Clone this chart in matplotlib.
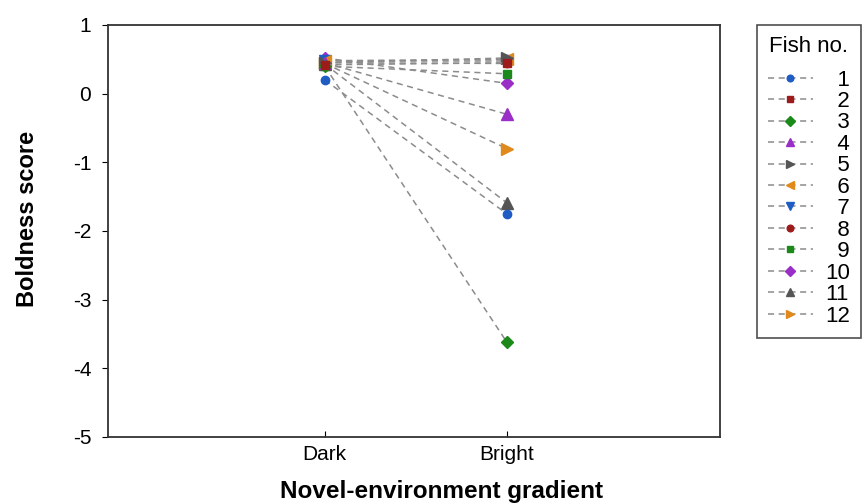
import matplotlib
matplotlib.use("Agg")
import matplotlib.pyplot as plt

plt.rcParams['font.family'] = ['Liberation Sans', 'DejaVu Sans']
plt.rcParams['axes.unicode_minus'] = False

conditions = ["Dark", "Bright"]
fish_ids = ["1", "2", "3", "4", "5", "6", "7", "8", "9", "10", "11", "12"]

# boldness score per fish: (dark, bright)
dark_scores = [0.20, 0.42, 0.40, 0.45, 0.45, 0.48, 0.47, 0.45, 0.40, 0.52, 0.43, 0.44]
bright_scores = [-1.75, 0.45, -3.62, -0.30, 0.52, 0.50, 0.47, 0.44, 0.29, 0.15, -1.59, -0.80]

blue = "#1f5cc4"
red = "#9e1b1b"
green = "#1b8a1b"
purple = "#9a2fc8"
gray = "#555555"
orange = "#e08a1c"

colors = [blue, red, green, purple, gray, orange, blue, red, green, purple, gray, orange]
markers = ["o", "s", "D", "^", ">", "<", "v", "o", "s", "D", "^", ">"]
sizes = [6, 6, 6, 8, 8, 8, 8, 6, 6, 6, 8, 8]

fig = plt.figure(figsize=(8.64, 5.04), dpi=100)
ax = fig.add_axes([108 / 864, 1 - 437 / 504, (720 - 108) / 864, (437 - 25) / 504])

xs = [1, 2]
lines = []
for i, fid in enumerate(fish_ids):
    ln, = ax.plot(xs, [dark_scores[i], bright_scores[i]], linestyle=(0, (4, 3)), color="#8c8c8c",
                  linewidth=1.1, marker=markers[i], markersize=sizes[i],
                  markerfacecolor=colors[i], markeredgecolor=colors[i], label=fid,
                  zorder=3 + (len(fish_ids) - i) * 0.1)
    lines.append(ln)

ax.set_xlim(-0.19, 3.17)
ax.set_ylim(-5, 1)
ax.set_xticks(xs)
ax.set_xticklabels(conditions)
ax.set_yticks([1, 0, -1, -2, -3, -4, -5])
ax.tick_params(axis="y", direction="out", length=4, labelsize=15, pad=8)
ax.tick_params(axis="x", direction="in", length=4, labelsize=15, pad=6)
for s in ax.spines.values():
    s.set_color("#333333")
    s.set_linewidth(1.3)

ax.set_ylabel("Boldness score", fontsize=17, fontweight="bold")
ax.set_xlabel("Novel-environment gradient", fontsize=17.5, fontweight="bold")
ax.yaxis.set_label_coords(-0.112, 0.53)
ax.xaxis.set_label_coords(0.545, -0.104)

labels = [("\u2007" + l) if len(l) == 1 else l for l in fish_ids]
leg = fig.legend(lines, labels, title="Fish no.", loc="upper left",
                 bbox_to_anchor=(757 / 864, 1 - 25 / 504), borderaxespad=0,
                 fontsize=16, title_fontsize=16, frameon=True, fancybox=False,
                 edgecolor="#222222", labelspacing=0.02, handlelength=2.0,
                 handletextpad=0.55, borderpad=0.5, markerscale=0.8)
leg._legend_box.sep = 9  # gap between title and entries
leg.get_frame().set_linewidth(1.2)

fig.savefig("out.png", dpi=100)
